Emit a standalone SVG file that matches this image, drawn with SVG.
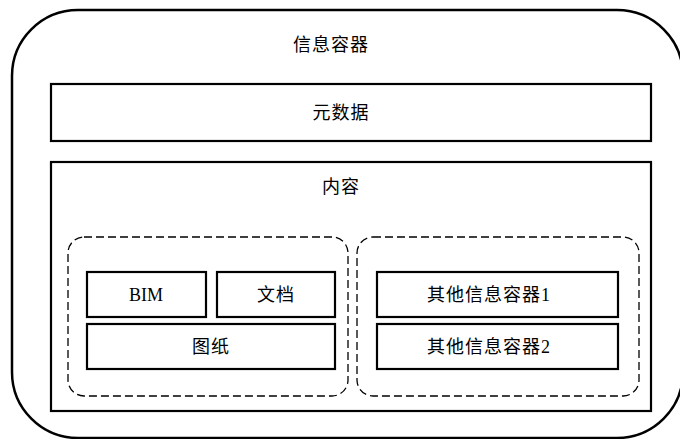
<svg xmlns="http://www.w3.org/2000/svg" width="680" height="439" viewBox="0 0 680 439">
<style>
.box{fill:#fff;stroke:#000;stroke-width:2.2}
.dash{fill:none;stroke:#000;stroke-width:1.3;stroke-dasharray:8 4}
.t{font-family:"Liberation Serif","Noto Sans CJK SC",serif;font-size:18px;fill:#000;text-anchor:middle;dominant-baseline:central;letter-spacing:1px}
</style>
<rect width="680" height="439" fill="#fff"/>
<g id="container">
<rect x="12" y="10" width="671" height="428" rx="66" ry="66" fill="#fff" stroke="#000" stroke-width="2.5"/>
<text class="t" x="331" y="45">信息容器</text>
</g>
<g id="metadata">
<rect class="box" x="51" y="84" width="600" height="57"/>
<text class="t" x="341" y="113">元数据</text>
</g>
<g id="content">
<rect class="box" x="51" y="162" width="600" height="249"/>
<text class="t" x="341" y="187">内容</text>
</g>
<g id="group-left">
<rect class="dash" x="68" y="237" width="280" height="159" rx="16" ry="16"/>
</g>
<g id="group-right">
<rect class="dash" x="357" y="237" width="282" height="159" rx="16" ry="16"/>
</g>
<g id="bim">
<rect class="box" x="87" y="272" width="119" height="45"/>
<text class="t" x="146" y="294.5" style="letter-spacing:0">BIM</text>
</g>
<g id="doc">
<rect class="box" x="217" y="272" width="118" height="45"/>
<text class="t" x="276" y="294.5">文档</text>
</g>
<g id="drawing">
<rect class="box" x="87" y="324" width="248" height="45"/>
<text class="t" x="211" y="346.5">图纸</text>
</g>
<g id="other1">
<rect class="box" x="377" y="272" width="241" height="45"/>
<text class="t" x="489" y="294.5">其他信息容器1</text>
</g>
<g id="other2">
<rect class="box" x="377" y="324" width="241" height="45"/>
<text class="t" x="489" y="346.5">其他信息容器2</text>
</g>
<g id="connectors"></g>
</svg>
